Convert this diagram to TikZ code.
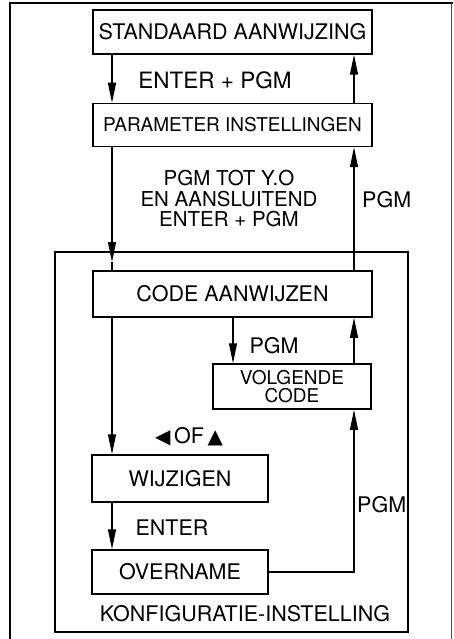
\documentclass[tikz,border=0pt]{standalone}
\usepackage{fontspec}
\setmainfont{TeX Gyre Heros}
\newfontfamily\symfont{DejaVu Sans}
\usetikzlibrary{arrows.meta}
\tikzset{
  box/.style={draw, line width=1.5pt, inner sep=0pt, font=\fontsize{21.5}{22}\selectfont},
  lbl/.style={inner sep=0pt, font=\fontsize{21.5}{19}\selectfont, align=center},
  arr/.style={line width=1.2pt, -{Triangle[length=20pt,width=8pt]}},
  ln/.style={line width=1.2pt}
}
\begin{document}
\begin{tikzpicture}[x=1pt,y=-1pt]
\useasboundingbox (0,0) rectangle (453,639);
% outer frame
\draw[line width=1.5pt] (10,640) -- (10,3) -- (453,3);
\draw[line width=1pt, black!70] (451,3) -- (451,640);
% inner frame
\draw[line width=1.5pt] (55,252) rectangle (408,632);
% helper x positions
\coordinate (xl) at (112,0);
\coordinate (xr) at (354,0);
\coordinate (xm) at (233,0);
\coordinate (m1) at (112,262);
% boxes
\node[box, minimum width=279pt, minimum height=44pt] (std) at (232.5,32) {STANDAARD AANWIJZING};
\node[box, minimum width=279pt, minimum height=43pt, font=\fontsize{19}{20}\selectfont] (par) at (232.5,125) {PARAMETER INSTELLINGEN};
\node[box, minimum width=279pt, minimum height=46pt] (code) at (232.5,294) {CODE AANWIJZEN};
\node[box, minimum width=158pt, minimum height=45pt, align=center, font=\fontsize{19}{18}\selectfont] (vol) at (292,386.5) {VOLGENDE\\CODE};
\node[box, minimum width=176pt, minimum height=47pt] (wij) at (180,478.5) {WIJZIGEN};
\node[box, minimum width=176pt, minimum height=44pt] (ove) at (180,572) {OVERNAME};
% connectors
\draw[arr] (std.south -| xl) -- (par.north -| xl);
\draw[arr] (par.north -| xr) -- (std.south -| xr);
\draw[arr] (par.south -| xl) -- (m1);
\draw[ln] (m1) -- (code.north -| xl);
\draw[arr] (code.north -| xr) -- (par.south -| xr);
\draw[arr] (code.south -| xm) -- (vol.north -| xm);
\draw[arr] (vol.north -| xr) -- (code.south -| xr);
\draw[arr] (code.south -| xl) -- (wij.north -| xl);
\draw[arr] (wij.south -| xl) -- (ove.north -| xl);
\draw[arr] (ove.east) -- (ove.east -| xr) -- (vol.south -| xr);
% labels
\node[lbl, font=\fontsize{22.5}{19}\selectfont] (l1) at (215,80) {ENTER + PGM};
\node[lbl, font=\fontsize{20.5}{20.5}\selectfont] (l2) at (229,199) {PGM TOT Y.O\\EN AANSLUITEND\\ENTER + PGM};
\node[lbl, anchor=west] (l3) at (362,200) {PGM};
\node[lbl] (l4) at (274,346) {PGM};
\node[lbl] (l5) at (189,437) {{\symfont\fontsize{20}{16}\selectfont ◀}\,OF\,{\symfont\fontsize{20}{16}\selectfont ▲}};
\node[lbl, anchor=west] (l6) at (357,505) {PGM};
\node[lbl] (l7) at (172,528) {ENTER};
\node[lbl] (l8) at (245,614) {KONFIGURATIE-INSTELLING};
\end{tikzpicture}
\end{document}
